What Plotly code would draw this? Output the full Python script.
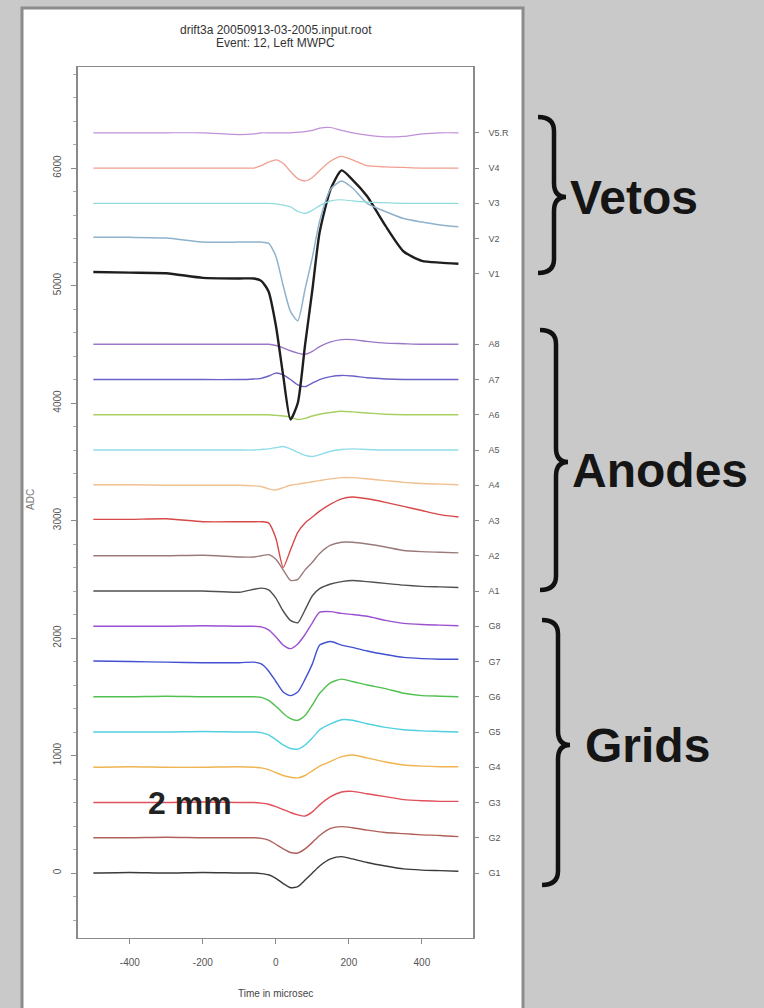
import plotly.graph_objects as go

# ---------------- data (ADC deviation from each channel's baseline) ----------------
time_ns = [-500, -400, -300, -200, -100, -60, -40, -20, 0, 20, 40, 60, 80, 100,
           120, 150, 180, 210, 250, 300, 350, 400, 450, 500]

g1 = [0, 5, 0, 5, 0, 0, -5, -15, -45, -90, -125, -115, -60, 0, 60, 120, 140, 120, 90, 60, 35, 25, 20, 15]
g2 = [0, 0, 5, 0, 0, 0, -5, -20, -55, -95, -125, -130, -95, -40, 20, 80, 95, 85, 65, 45, 35, 25, 20, 10]
g3 = [0, 0, 0, 5, 0, 0, -5, -15, -35, -60, -85, -105, -115, -80, -20, 50, 90, 95, 75, 50, 25, 15, 10, 10]
g4 = [0, 5, 0, 0, 5, 0, -5, -20, -45, -70, -85, -90, -70, -30, 10, 50, 90, 105, 80, 45, 20, 10, 5, 5]
g5 = [0, 0, 0, 5, 0, 0, -5, -25, -65, -110, -140, -145, -110, -50, 20, 70, 105, 100, 70, 40, 20, 10, 5, 0]
g6 = [0, 0, 5, 0, 0, 0, -5, -30, -80, -140, -185, -200, -160, -70, 30, 120, 150, 130, 100, 70, 30, 10, 5, 0]
g7 = [5, 0, -5, -10, -10, -5, -20, -80, -170, -260, -290, -260, -150, -20, 140, 170, 140, 120, 90, 60, 35, 25, 20, 20]
g8 = [0, 0, 0, 5, 0, 0, -5, -30, -90, -160, -190, -150, -70, 30, 120, 125, 110, 100, 85, 50, 25, 15, 10, 5]
a1 = [0, 0, 0, 0, -10, 15, 25, 10, -60, -170, -250, -270, -160, -40, 20, 60, 80, 90, 80, 65, 50, 40, 35, 30]
a2 = [0, 0, 0, 5, -10, -10, 0, 10, -30, -120, -210, -200, -120, -55, 20, 90, 115, 115, 100, 75, 45, 35, 30, 25]
a3 = [10, 10, 15, -10, -10, -10, -10, -20, -150, -400, -250, -100, -20, 30, 80, 140, 185, 200, 185, 155, 120, 85, 50, 30]
a4 = [5, 5, 0, 0, 0, -5, -10, -30, -40, -20, 0, 10, 20, 30, 40, 55, 65, 65, 55, 40, 25, 15, 10, 5]
a5 = [0, 0, 0, 0, 0, 0, 5, 10, 20, 30, 10, -20, -45, -55, -40, -10, 5, 10, 5, 0, 0, 0, 0, 0]
a6 = [0, 0, 0, 0, 0, 0, 0, 0, -5, -10, -20, -40, -30, -10, 5, 20, 30, 25, 15, 5, 0, 0, 0, 0]
a7 = [0, 0, 0, 0, 0, 5, 10, 30, 55, 40, 0, -45, -60, -30, 0, 25, 35, 30, 15, 5, 0, 0, 0, 0]
a8 = [0, 0, 0, 0, 0, 0, 0, 0, -10, -30, -55, -75, -85, -60, -20, 20, 40, 40, 25, 10, 5, 0, 0, 0]
v1 = [15, 10, 5, -35, -40, -40, -60, -150, -440, -865, -1240, -1100, -605, -136, 355, 720, 880, 800, 660, 410, 190, 110, 95, 85]
v2 = [10, 10, 5, -30, -30, -30, -30, -40, -150, -400, -620, -700, -430, -160, 150, 420, 490, 430, 300, 230, 170, 140, 115, 100]
v3 = [0, 0, 0, 0, 0, 0, 0, 0, -5, -15, -30, -70, -85, -60, -20, 20, 30, 20, 10, 5, 0, 0, 0, 0]
v4 = [0, 0, 0, 0, 0, 0, 20, 50, 70, 40, -30, -90, -110, -80, -20, 60, 100, 70, 20, 10, 5, 0, 0, 0]
v5 = [0, 0, 0, 0, -15, -10, 0, 0, 0, 0, 0, 5, 10, 20, 40, 45, 20, 0, -20, -35, -30, -10, 0, 0]

channel_labels = ["G1", "G2", "G3", "G4", "G5", "G6", "G7", "G8",
                  "A1", "A2", "A3", "A4", "A5", "A6", "A7", "A8",
                  "V1", "V2", "V3", "V4", "V5.R"]
channel_baselines = [0, 300, 600, 900, 1200, 1500, 1800, 2100,
                     2400, 2700, 3000, 3300, 3600, 3900, 4200, 4500,
                     5100, 5400, 5700, 6000, 6300]
channel_data = [g1, g2, g3, g4, g5, g6, g7, g8,
                a1, a2, a3, a4, a5, a6, a7, a8,
                v1, v2, v3, v4, v5]

x_ticks = [-400, -200, 0, 200, 400]
y_ticks = [0, 1000, 2000, 3000, 4000, 5000, 6000]

# ---------------- styles ----------------
colors = ["#3a3a3a", "#b0605a", "#e0505a", "#f0b450", "#50d0e0", "#50c050", "#4050d0", "#9a50d0",
          "#505050", "#9a7a78", "#d84848", "#f0c090", "#90dde8", "#a8d060", "#6a60c8", "#9a78c8",
          "#1e1e1e", "#8eb2cc", "#90dcdc", "#f0a090", "#c090d8"]
widths = [1.4] * 16 + [2.4, 1.5, 1.2, 1.3, 1.2]

W, H = 764, 1008
ML, MR, MT, MB = 78, 764 - 473, 67, 1008 - 938
PW, PH = W - ML - MR, H - MT - MB


def X(px):
    return (px - ML) / PW


def Y(py):
    return (H - MB - py) / PH


fig = go.Figure()
for lab, base, dev, col, w in zip(channel_labels, channel_baselines, channel_data, colors, widths):
    fig.add_trace(go.Scatter(
        x=time_ns, y=[base + d for d in dev], mode="lines", name=lab,
        line=dict(color=col, width=w, shape="spline", smoothing=0.6),
        showlegend=False, hoverinfo="skip"))

# anchor trace for the right-hand channel axis
fig.add_trace(go.Scatter(x=[None], y=[None], yaxis="y2", showlegend=False, hoverinfo="skip"))

axis_col = "#8a8a8a"
tick_font = dict(family="Liberation Sans, Arial, sans-serif", size=10, color="#555555")
yr = [-553, 6860]

fig.update_layout(
    width=W, height=H, autosize=False,
    margin=dict(l=ML, r=MR, t=MT, b=MB, pad=0),
    paper_bgcolor="#c9c9c9", plot_bgcolor="white",
    font=dict(family="Liberation Sans, Arial, sans-serif", color="#333"),
    xaxis=dict(range=[-542, 540], tickvals=x_ticks, ticktext=[str(v) for v in x_ticks],
               showgrid=False, zeroline=False, showline=True, linecolor=axis_col, linewidth=1.2,
               mirror=True, ticks="outside", ticklen=5, tickcolor=axis_col,
               ticklabelstandoff=10, tickfont=tick_font),
    yaxis=dict(range=yr, tickvals=y_ticks, ticktext=[str(v) for v in y_ticks],
               showgrid=False, zeroline=False, showline=True, linecolor=axis_col, linewidth=1.5,
               ticks="outside", ticklen=5, tickcolor=axis_col, tickangle=-90,
               ticklabelstandoff=6, tickfont=tick_font,
               minor=dict(dtick=200, ticks="outside", ticklen=3, tickcolor="#aaaaaa")),
    yaxis2=dict(range=yr, overlaying="y", side="right", anchor="x",
                tickvals=channel_baselines, ticktext=channel_labels,
                showgrid=False, zeroline=False, showline=True, linecolor=axis_col, linewidth=1.5,
                ticks="outside", ticklen=4, tickcolor=axis_col,
                ticklabelstandoff=8, tickfont=dict(family="Liberation Sans, Arial, sans-serif",
                                                    size=9, color="#555555")),
)

shapes = [dict(type="rect", xref="paper", yref="paper", layer="below",
               x0=X(22), x1=X(523), y0=Y(1012), y1=Y(8),
               fillcolor="white", line=dict(color="#8c8c8c", width=3))]


def brace(x0, xs, xp, y0, ym, y1, r=14):
    p = (f"M {X(x0)},{Y(y0)} Q {X(xs)},{Y(y0)} {X(xs)},{Y(y0 + r)} "
         f"L {X(xs)},{Y(ym - r)} Q {X(xs)},{Y(ym)} {X(xp)},{Y(ym)} "
         f"Q {X(xs)},{Y(ym)} {X(xs)},{Y(ym + r)} "
         f"L {X(xs)},{Y(y1 - r)} Q {X(xs)},{Y(y1)} {X(x0)},{Y(y1)}")
    return dict(type="path", xref="paper", yref="paper", path=p,
                line=dict(color="#111111", width=4.5), layer="above")


shapes.append(brace(538, 554, 566, 117, 197, 273))
shapes.append(brace(540, 556, 568, 330, 462, 590))
shapes.append(brace(542, 558, 570, 620, 745, 885))
fig.update_layout(shapes=shapes)

big = dict(family="Liberation Sans, Arial, sans-serif", size=48, color="#151515", weight="bold")
ann = [
    dict(text="Vetos", x=X(568), y=Y(198), xanchor="left", yanchor="middle", font=big),
    dict(text="Anodes", x=X(570), y=Y(470), xanchor="left", yanchor="middle", font=big),
    dict(text="Grids", x=X(583), y=Y(745), xanchor="left", yanchor="middle", font=big),
    dict(text="2 mm", x=X(146), y=Y(803), xanchor="left", yanchor="middle",
         font=dict(family="Liberation Sans, Arial, sans-serif", size=32, color="#222222", weight="bold")),
    dict(text="drift3a 20050913-03-2005.input.root", x=0.5, y=Y(30), xanchor="center", yanchor="middle",
         font=dict(size=12, color="#333333")),
    dict(text="Event: 12, Left MWPC", x=0.5, y=Y(43), xanchor="center", yanchor="middle",
         font=dict(size=12, color="#333333")),
    dict(text="Time in microsec", x=0.5, y=Y(993), xanchor="center", yanchor="middle",
         font=dict(size=10, color="#444444")),
    dict(text="ADC", x=X(30), y=Y(500), xanchor="center", yanchor="middle", textangle=-90,
         font=dict(size=10, color="#777777")),
]
for a in ann:
    a.update(xref="paper", yref="paper", showarrow=False)
fig.update_layout(annotations=ann)

fig.write_html("out.html")
